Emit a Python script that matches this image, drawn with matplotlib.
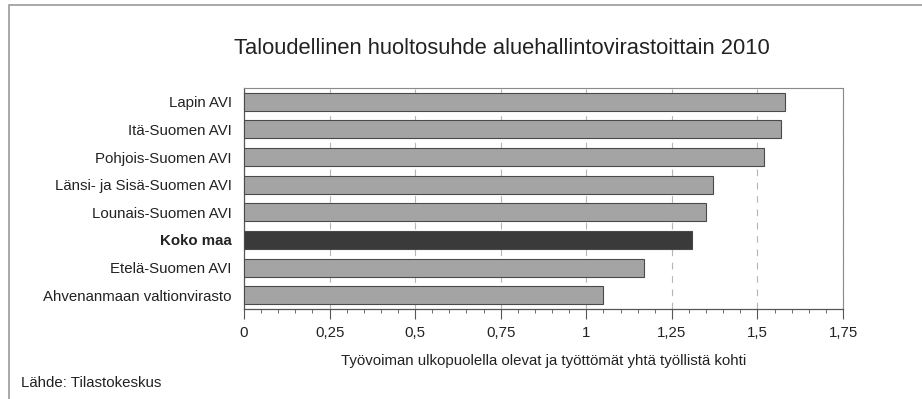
import matplotlib
matplotlib.use("Agg")
import matplotlib.pyplot as plt
from matplotlib.patches import Rectangle
from matplotlib.ticker import MultipleLocator, FuncFormatter

plt.rcParams['font.family'] = ['Liberation Sans', 'DejaVu Sans']

# Data (top to bottom as in the chart)
categories = ["Lapin AVI", "Itä-Suomen AVI", "Pohjois-Suomen AVI",
              "Länsi- ja Sisä-Suomen AVI", "Lounais-Suomen AVI", "Koko maa",
              "Etelä-Suomen AVI", "Ahvenanmaan valtionvirasto"]
values = [1.58, 1.57, 1.52, 1.37, 1.35, 1.31, 1.17, 1.05]
highlight = "Koko maa"

title = "Taloudellinen huoltosuhde aluehallintovirastoittain 2010"
xlabel = "Työvoiman ulkopuolella olevat ja työttömät yhtä työllistä kohti"
source = "Lähde: Tilastokeskus"

fig = plt.figure(figsize=(9.22, 3.99), dpi=100)

# outer frame (right side runs off the picture)
fig.patches.append(Rectangle((9 / 922, -0.05), 1.2, 1 - 5 / 399 + 0.05,
                             transform=fig.transFigure, fill=False,
                             edgecolor='#9a9a9a', linewidth=1.2))

ax = fig.add_axes([244 / 922, 90 / 399, 599 / 922, 221 / 399])

ypos = list(range(len(categories)))[::-1]
colors = ['#3a3a3a' if c == highlight else '#a4a4a4' for c in categories]
ax.barh(ypos, values, height=0.65, color=colors, edgecolor='#4a4a4a',
        linewidth=0.8, zorder=3)

ax.set_xlim(0, 1.75)
ax.set_ylim(-0.5, len(categories) - 0.5)
ax.set_yticks(ypos)
ax.set_yticklabels(categories, fontsize=10.8, color='#222222')
for lab in ax.get_yticklabels():
    if lab.get_text() == highlight:
        lab.set_fontweight('bold')
ax.tick_params(axis='y', length=0, pad=9)

ax.xaxis.set_major_locator(MultipleLocator(0.25))
ax.xaxis.set_minor_locator(MultipleLocator(0.05))
ax.xaxis.set_major_formatter(FuncFormatter(lambda v, p: f"{v:g}".replace('.', ',')))
ax.tick_params(axis='x', which='major', length=7, width=0.8, color='#555555',
               labelsize=10.8, labelcolor='#222222', pad=5)
ax.tick_params(axis='x', which='minor', length=3, width=0.6, color='#555555')

ax.grid(axis='x', which='major', linestyle=(0, (6, 6)), color='#b5b5b5',
        linewidth=0.8, zorder=0)
ax.set_axisbelow(True)

for side in ['left', 'bottom']:
    ax.spines[side].set_color('#555555')
    ax.spines[side].set_linewidth(0.9)
for side in ['top', 'right']:
    ax.spines[side].set_color('#8a8a8a')
    ax.spines[side].set_linewidth(0.8)

ax.set_xlabel(xlabel, fontsize=10.8, color='#222222', labelpad=10)

fig.text(502 / 922, 1 - 48 / 399, title, ha='center', va='center',
         fontsize=15.8, color='#222222')
fig.text(21 / 922, 1 - 383 / 399, source, ha='left', va='center',
         fontsize=10.8, color='#222222')

fig.savefig("out.png", dpi=100)
